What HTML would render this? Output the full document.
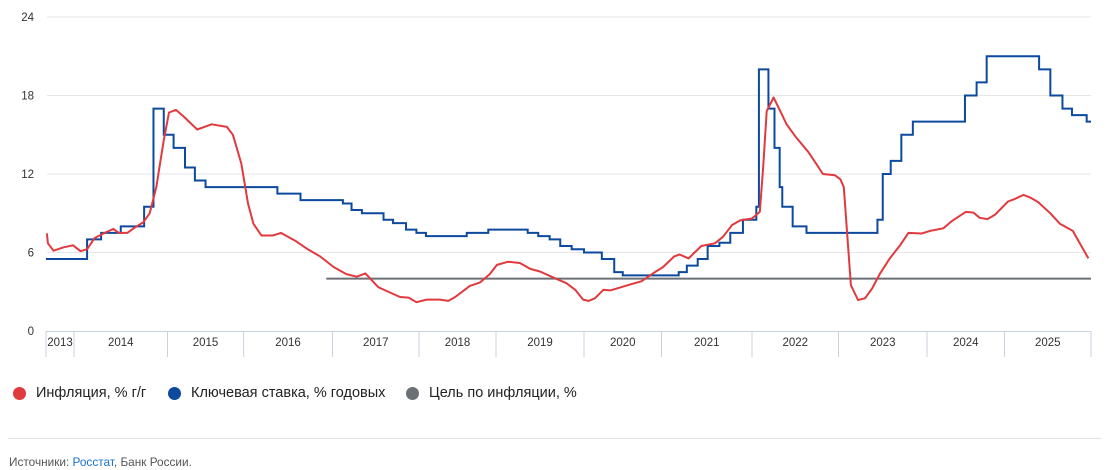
<!DOCTYPE html>
<html><head><meta charset="utf-8"><style>
body{margin:0;width:1112px;height:470px;background:#fff;font-family:"Liberation Sans",sans-serif;overflow:hidden;position:relative}
.leg{position:absolute;top:385px;font-size:14.5px;color:#222;display:flex;align-items:center;white-space:nowrap}
.dot{width:13px;height:13px;border-radius:50%;margin-right:10px;display:inline-block}
.foot{position:absolute;left:9px;top:455px;font-size:11.8px;color:#555}
.foot span.l{color:#1a73c8}
</style></head><body>
<svg id="chart" width="1112" height="370" style="position:absolute;left:0;top:0" font-family="Liberation Sans, sans-serif"></svg>
<div class="leg" style="left:13px"><span class="dot" style="background:#e03a3e"></span>Инфляция, % г/г</div>
<div class="leg" style="left:168px"><span class="dot" style="background:#0d4a9e"></span>Ключевая ставка, % годовых</div>
<div class="leg" style="left:406px"><span class="dot" style="background:#6b7077"></span>Цель по инфляции, %</div>
<div style="position:absolute;left:8px;top:438px;width:1094px;height:1px;background:#e3e3e3"></div>
<div class="foot">Источники: <span class="l">Росстат</span>, Банк России.</div>
<script>
const yTicks=[0,6,12,18,24];
const yearLabels=["2013","2014","2015","2016","2017","2018","2019","2020","2021","2022","2023","2024","2025"];
const rateDates=[2013.70,2014.14,2014.29,2014.50,2014.75,2014.85,2014.96,2015.08,2015.23,2015.36,2015.50,2016.38,2016.64,2017.12,2017.22,2017.34,2017.59,2017.70,2017.85,2017.97,2018.09,2018.62,2018.90,2019.36,2019.48,2019.61,2019.73,2019.86,2020.00,2020.23,2020.39,2020.50,2021.19,2021.28,2021.40,2021.51,2021.64,2021.76,2021.90,2022.05,2022.08,2022.19,2022.26,2022.32,2022.35,2022.47,2022.63,2023.44,2023.50,2023.59,2023.71,2023.84,2024.49,2024.64,2024.77,2025.40,2025.53,2025.67,2025.78,2025.95];
const rateValues=[5.5,7,7.5,8,9.5,17,15,14,12.5,11.5,11,10.5,10,9.75,9.25,9,8.5,8.25,7.75,7.5,7.25,7.5,7.75,7.5,7.25,7,6.5,6.25,6,5.5,4.5,4.25,4.5,5,5.5,6.5,6.75,7.5,8.5,9.5,20,17,14,11,9.5,8,7.5,8.5,12,13,15,16,18,19,21,20,18,17,16.5,16];
const rateEnd=2026.0;
const inflDates=[2013.71,2013.72,2013.78,2013.89,2013.99,2014.07,2014.14,2014.22,2014.30,2014.42,2014.48,2014.57,2014.67,2014.74,2014.81,2014.88,2014.96,2015.02,2015.11,2015.21,2015.39,2015.58,2015.78,2015.86,2015.97,2016.05,2016.11,2016.20,2016.33,2016.42,2016.58,2016.71,2016.86,2017.01,2017.16,2017.28,2017.38,2017.53,2017.78,2017.88,2017.97,2018.10,2018.27,2018.38,2018.47,2018.66,2018.79,2018.92,2019.01,2019.14,2019.27,2019.39,2019.50,2019.65,2019.80,2019.90,2019.99,2020.06,2020.14,2020.25,2020.34,2020.62,2020.74,2020.89,2021.02,2021.14,2021.20,2021.30,2021.44,2021.59,2021.68,2021.78,2021.87,2022.00,2022.09,2022.13,2022.17,2022.25,2022.32,2022.40,2022.51,2022.65,2022.75,2022.82,2022.96,2023.02,2023.06,2023.14,2023.22,2023.30,2023.38,2023.47,2023.58,2023.70,2023.79,2023.94,2024.04,2024.21,2024.32,2024.50,2024.60,2024.68,2024.78,2024.88,2025.04,2025.12,2025.22,2025.30,2025.39,2025.53,2025.64,2025.79,2025.97];
const inflValues=[7.47,6.7,6.14,6.4,6.55,6.1,6.25,7.1,7.4,7.8,7.5,7.5,8.0,8.3,9.0,11.0,14.6,16.7,16.9,16.4,15.4,15.8,15.6,15.0,12.8,9.75,8.2,7.3,7.3,7.5,6.9,6.3,5.7,4.9,4.35,4.15,4.4,3.35,2.6,2.55,2.2,2.4,2.4,2.3,2.6,3.45,3.7,4.35,5.05,5.3,5.2,4.75,4.55,4.1,3.65,3.15,2.4,2.3,2.5,3.15,3.1,3.6,3.8,4.4,4.9,5.7,5.85,5.55,6.5,6.7,7.2,8.1,8.45,8.6,9.1,12.55,16.8,17.85,16.9,15.8,14.8,13.7,12.7,12.0,11.9,11.6,11.0,3.5,2.37,2.5,3.25,4.4,5.55,6.6,7.5,7.45,7.65,7.85,8.4,9.1,9.05,8.65,8.55,8.9,9.9,10.1,10.4,10.2,9.85,9.0,8.2,7.65,5.55];
const targetValue=4;
const targetStart=2016.93;

// axis layout: year boundaries (decimal years) and their pixel edges
const yearEdges=[2013.70,2014,2015,2016,2017,2018,2019,2020,2021,2022,2023,2024,2025,2026];
const edgePx=[46,74,167.5,243.6,332.5,419,496,584,661.5,752,838.5,927,1004.5,1091];
function x(t){
  if(t<=yearEdges[0])return edgePx[0];
  for(let i=0;i<yearEdges.length-1;i++){
    if(t<=yearEdges[i+1]){return edgePx[i]+(t-yearEdges[i])/(yearEdges[i+1]-yearEdges[i])*(edgePx[i+1]-edgePx[i]);}
  }
  return edgePx[edgePx.length-1];
}
function y(v){return 331-v*(314/24);}
const NS="http://www.w3.org/2000/svg";
const svg=document.getElementById('chart');
function mk(tag,attrs){const e=document.createElementNS(NS,tag);for(const k in attrs)e.setAttribute(k,attrs[k]);svg.appendChild(e);return e;}

yTicks.forEach(v=>{
  if(v>0){const g=mk('line',{x1:47,x2:1091,y1:y(v),y2:y(v),stroke:'#e6e6e6','stroke-width':1});
  
  }
  const t=mk('text',{x:34,y:y(v)+4,'text-anchor':'end','font-size':11.5,fill:'#333'});
  t.textContent=v;
  
  
});
const ax=mk('line',{x1:46,x2:1091,y1:331.5,y2:331.5,stroke:'#c9d3e0','stroke-width':1});


for(let i=0;i<edgePx.length;i++){
  const s=mk('line',{x1:x(yearEdges[i]),x2:x(yearEdges[i]),y1:331,y2:357,stroke:'#c9d3e0','stroke-width':1});
  
  
}
yearLabels.forEach((lab,i)=>{
  const cx=(x(yearEdges[i])+x(yearEdges[i+1]))/2;
  const t=mk('text',{x:cx,y:346,'text-anchor':'middle','font-size':11.5,fill:'#333'});
  t.textContent=lab;
  
  
});
const tl=mk('line',{x1:x(targetStart),x2:x(rateEnd),y1:y(targetValue),y2:y(targetValue),stroke:'#6b7077','stroke-width':2});


let d='';
rateDates.forEach((t,i)=>{
  const nx=i<rateDates.length-1?rateDates[i+1]:rateEnd;
  d+=(i===0?'M':'L')+x(t)+','+y(rateValues[i])+'L'+x(nx)+','+y(rateValues[i]);
});
const rp=mk('path',{d:d,fill:'none',stroke:'#0d4a9e','stroke-width':2,'stroke-linejoin':'miter'});


let d2='';
inflDates.forEach((t,i)=>{d2+=(i===0?'M':'L')+x(t).toFixed(1)+','+y(inflValues[i]).toFixed(1);});
const ip=mk('path',{d:d2,fill:'none',stroke:'#e03a3e','stroke-width':2,'stroke-linejoin':'round'});


</script>
</body></html>
